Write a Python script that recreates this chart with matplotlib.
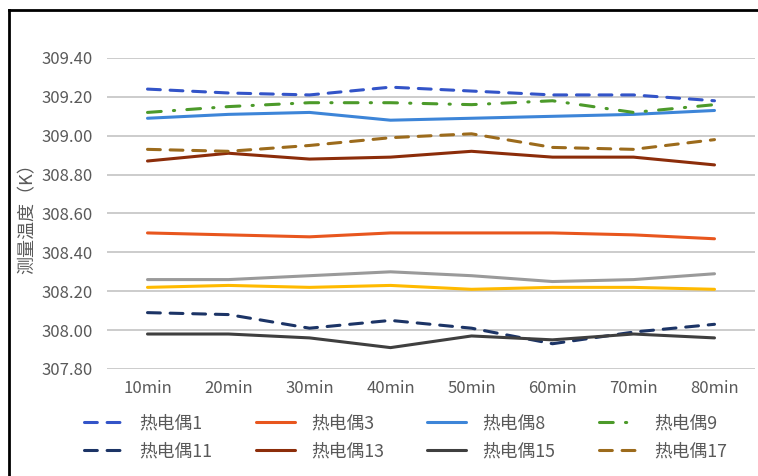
import matplotlib
matplotlib.use("Agg")
import matplotlib.pyplot as plt
from matplotlib.lines import Line2D

plt.rcParams['font.family'] = ['Noto Sans CJK SC', 'DejaVu Sans']

# measurement times and temperatures (K) of each thermocouple
times = ['10min', '20min', '30min', '40min', '50min', '60min', '70min', '80min']
tc1 = [309.24, 309.22, 309.21, 309.25, 309.23, 309.21, 309.21, 309.18]
tc3 = [308.50, 308.49, 308.48, 308.50, 308.50, 308.50, 308.49, 308.47]
tc8 = [309.09, 309.11, 309.12, 309.08, 309.09, 309.10, 309.11, 309.13]
tc9 = [309.12, 309.15, 309.17, 309.17, 309.16, 309.18, 309.12, 309.16]
tc11 = [308.09, 308.08, 308.01, 308.05, 308.01, 307.93, 307.99, 308.03]
tc13 = [308.87, 308.91, 308.88, 308.89, 308.92, 308.89, 308.89, 308.85]
tc15 = [307.98, 307.98, 307.96, 307.91, 307.97, 307.95, 307.98, 307.96]
tc17 = [308.93, 308.92, 308.95, 308.99, 309.01, 308.94, 308.93, 308.98]
# two extra series that have no legend entry
extra_gray = [308.26, 308.26, 308.28, 308.30, 308.28, 308.25, 308.26, 308.29]
extra_yellow = [308.22, 308.23, 308.22, 308.23, 308.21, 308.22, 308.22, 308.21]

fig = plt.figure(figsize=(7.58, 4.76), dpi=100)
ax = fig.add_axes([107 / 758, 107 / 476, 648 / 758, 311 / 476])

x = range(len(times))
lw = 2.2
dash = (4.2, 3.2)
dashdot = (4.5, 4, 0.4, 4)

series = [
    ('热电偶1', tc1, '#3354c8', dash),
    ('热电偶3', tc3, '#e8561e', None),
    ('热电偶8', tc8, '#3d85d8', None),
    ('热电偶9', tc9, '#4c9a2a', dashdot),
    ('热电偶11', tc11, '#1c3466', dash),
    ('热电偶13', tc13, '#8c2d0a', None),
    ('热电偶15', tc15, '#3f3f3f', None),
    ('热电偶17', tc17, '#9c6b1c', dash),
]

ax.plot(x, extra_gray, color='#9a9a9a', lw=lw, solid_capstyle='round')
ax.plot(x, extra_yellow, color='#ffba00', lw=lw, solid_capstyle='round')

handles = {}
for name, vals, col, ds in series:
    if ds is None:
        ln, = ax.plot(x, vals, color=col, lw=lw, solid_capstyle='round', label=name)
    else:
        ln, = ax.plot(x, vals, color=col, lw=lw, dashes=ds, dash_capstyle='round', label=name)
    handles[name] = ln

ax.set_xlim(-0.5, 7.5)
ax.set_ylim(307.80, 309.40)
ax.set_yticks([307.80 + 0.2 * i for i in range(9)])
ax.set_yticklabels([f'{307.80 + 0.2 * i:.2f}' for i in range(9)])
ax.set_xticks(list(x))
ax.set_xticklabels(times)
ax.tick_params(axis='both', length=0, labelsize=12, colors='#595959')
ax.tick_params(axis='y', pad=10)
ax.tick_params(axis='x', pad=8)
ax.grid(axis='y', color='#c8c8c8', lw=1.3)
ax.set_axisbelow(True)
for s in ax.spines.values():
    s.set_visible(False)

fig.text(28 / 758, 1 - 214 / 476, '测量温度（K）', rotation=90, ha='center', va='center',
         fontsize=13, color='#595959')

# legend, 4 columns filled row by row
order = ['热电偶1', '热电偶11', '热电偶3', '热电偶13', '热电偶8', '热电偶15', '热电偶9', '热电偶17']
fig.legend([handles[n] for n in order], order, ncol=4, loc='upper left',
           bbox_to_anchor=(84 / 758, 1 - 414 / 476), borderaxespad=0, borderpad=0,
           frameon=False, fontsize=12.8,
           handlelength=2.2, handletextpad=0.9, columnspacing=2.45, labelspacing=0.6,
           labelcolor='#595959')

# outer frame (only left and top edges are visible)
fig.add_artist(Line2D([9 / 758, 9 / 758], [0, 1 - 10 / 476], transform=fig.transFigure,
                      color='black', lw=2))
fig.add_artist(Line2D([9 / 758, 1], [1 - 10 / 476, 1 - 10 / 476], transform=fig.transFigure,
                      color='black', lw=2))

fig.savefig('out.png', dpi=100, facecolor='white')
